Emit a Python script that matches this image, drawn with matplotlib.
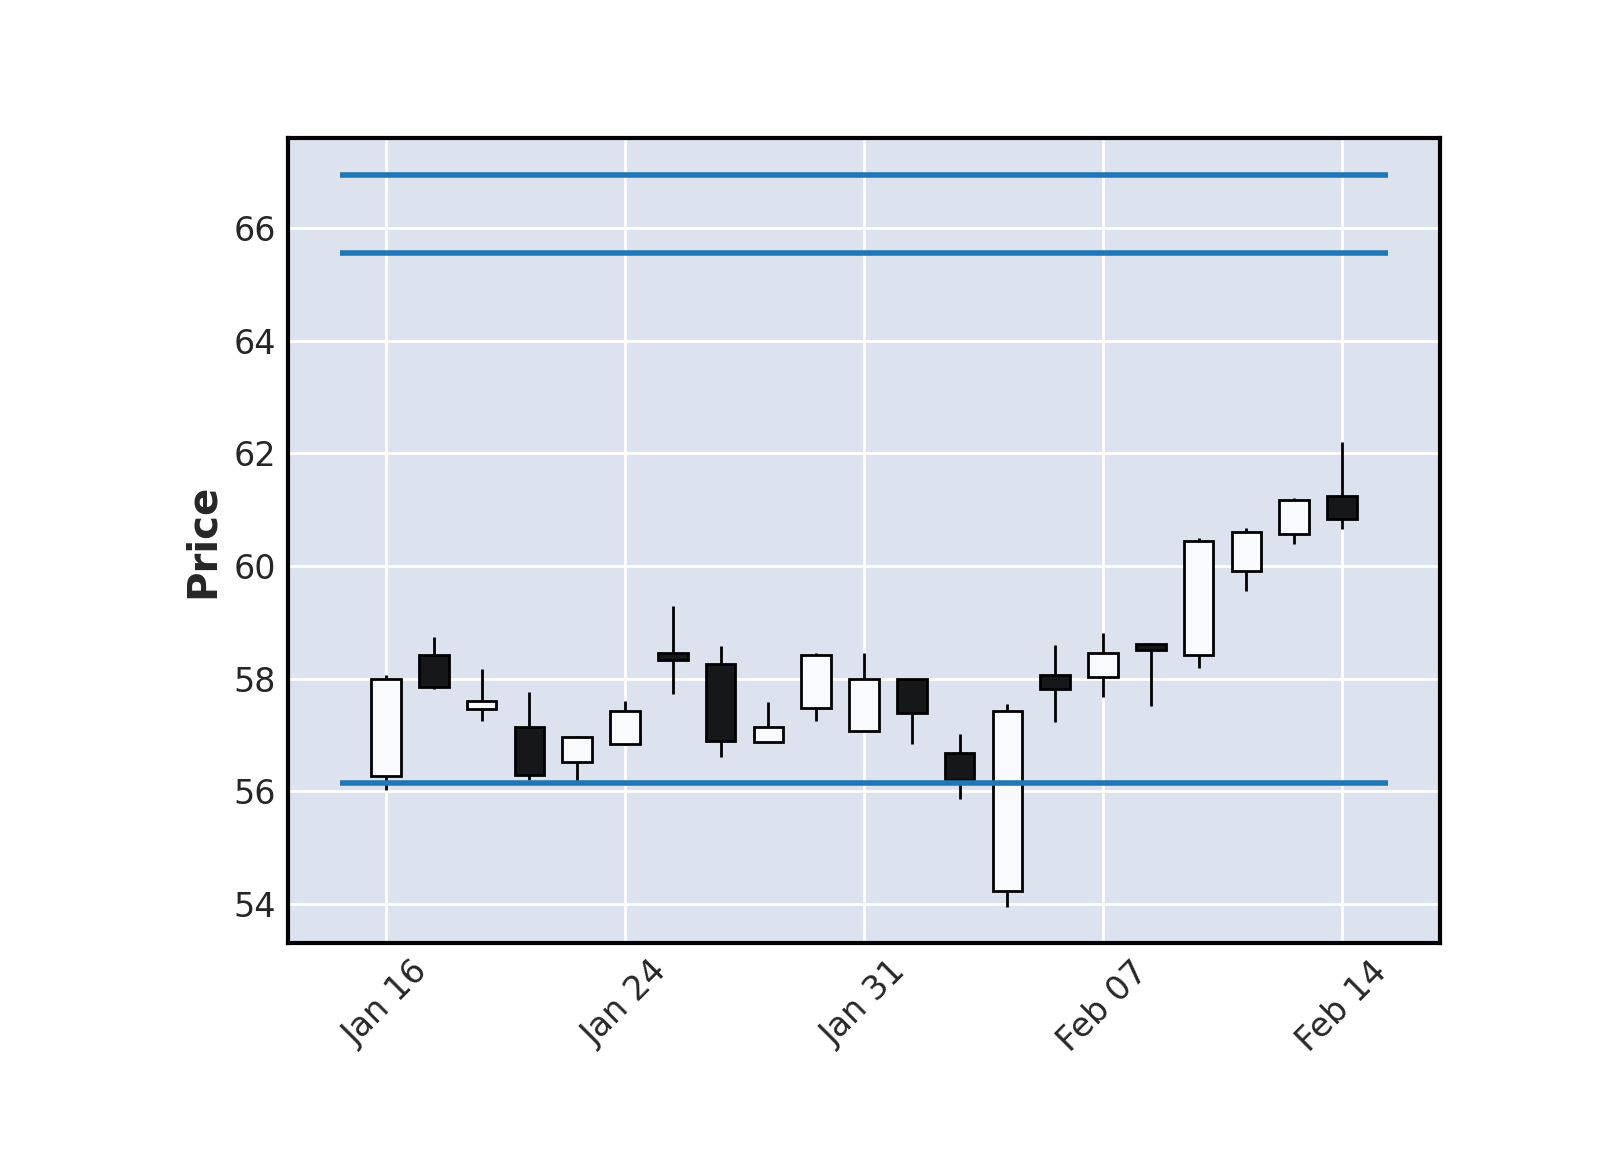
import pandas as pd
import matplotlib
matplotlib.use('Agg')
import matplotlib.pyplot as plt
from matplotlib.patches import Rectangle

# dados OHLC
datas = ['2019-01-16', '2019-01-17', '2019-01-18', '2019-01-22', '2019-01-23',
         '2019-01-24', '2019-01-25', '2019-01-28', '2019-01-29', '2019-01-30',
         '2019-01-31', '2019-02-01', '2019-02-04', '2019-02-05', '2019-02-06',
         '2019-02-07', '2019-02-08', '2019-02-11', '2019-02-12', '2019-02-13',
         '2019-02-14']
abertura = [56.28, 58.43, 57.46, 57.14, 56.53, 56.84, 58.45, 58.27, 56.88, 57.49,
            57.08, 57.99, 56.68, 54.23, 58.07, 58.04, 58.61, 58.42, 59.91, 60.57,
            61.24]
maxima = [58.07, 58.75, 58.18, 57.76, 56.99, 57.61, 59.30, 58.59, 57.58, 58.46,
          58.46, 58.00, 57.02, 57.56, 58.60, 58.81, 58.63, 60.50, 60.68, 61.21,
          62.20]
minima = [56.02, 57.82, 57.25, 56.21, 56.17, 56.82, 57.73, 56.62, 56.87, 57.25,
          57.07, 56.85, 55.87, 53.95, 57.23, 57.68, 57.52, 58.19, 59.56, 60.40,
          60.66]
fechamento = [58.00, 57.86, 57.61, 56.30, 56.97, 57.43, 58.33, 56.90, 57.14, 58.43,
              57.99, 57.40, 56.20, 57.43, 57.82, 58.46, 58.52, 60.45, 60.61, 61.17,
              60.83]

linhas_h = [56.15, 65.55, 66.95]
ticks_idx = [0, 5, 10, 15, 20]

df = pd.DataFrame({'Open': abertura, 'High': maxima, 'Low': minima, 'Close': fechamento},
                  index=pd.to_datetime(datas))

cor_alta = '#f9fafd'
cor_baixa = '#161719'
largura = 0.62

fig = plt.figure(figsize=(8, 5.75), dpi=200)
ax = fig.add_axes([0.18, 0.18, 0.72, 0.70])
ax.set_facecolor('#dce3ef')
ax.grid(True, color='white', linewidth=1.0)
ax.set_axisbelow(True)

for i, (o, h, l, c) in enumerate(zip(df['Open'], df['High'], df['Low'], df['Close'])):
    cor = cor_alta if c >= o else cor_baixa
    baixo, alto = min(o, c), max(o, c)
    ax.vlines(i, l, h, color='black', linewidth=1.0, zorder=2)
    ax.add_patch(Rectangle((i - largura / 2, baixo), largura, alto - baixo,
                           facecolor=cor, edgecolor='black', linewidth=1.0, zorder=3))

# linhas horizontais
ax.hlines(linhas_h, -0.96, len(df) - 1 + 0.96, color='#1f77b4', linewidth=2.0, zorder=4)

ax.set_xlim(-2.05, len(df) - 1 + 2.05)
ax.set_ylim(53.31, 67.6)
ax.set_yticks(range(54, 67, 2))
ax.set_xticks(ticks_idx)
ax.set_xticklabels([df.index[i].strftime('%b %d') for i in ticks_idx], rotation=45)

ax.tick_params(axis='both', length=0, pad=4.3, labelsize=12, labelcolor='#262626')
for s in ax.spines.values():
    s.set_color('black')
    s.set_linewidth(1.5)

ax.set_ylabel('Price', fontsize=14.5, fontweight='bold', color='#262626', labelpad=3.9)

fig.savefig('out.png', dpi=200)
plt.close()
